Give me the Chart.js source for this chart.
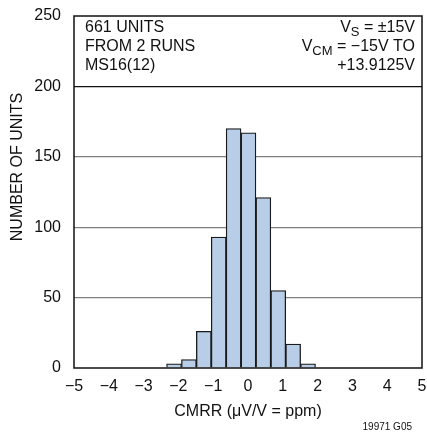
<!DOCTYPE html>
<html>
<head>
<meta charset="utf-8">
<script src="https://cdn.jsdelivr.net/npm/chart.js@4"></script>
<style>
  body { margin: 0; background: #fff; }
  #wrap { width: 427px; height: 436px; }
</style>
</head>
<body>
<div id="wrap"><canvas id="chart"></canvas></div>
<script>
// histogram bins (centres, µV/V) and counts
const binCenters = [-2.126, -1.698, -1.27, -0.842, -0.414, 0.014, 0.442, 0.87, 1.298, 1.726];
const counts = [3, 6, 26, 93, 170, 167, 121, 55, 17, 3];
const xTicks = [-5, -4, -3, -2, -1, 0, 1, 2, 3, 4, 5];
const yTicks = [0, 50, 100, 150, 200, 250];

const FONT = "'Liberation Sans', Arial, sans-serif";

// box, notes and titles
const notes = {
    id: "notes",
    afterDraw(chart) {
        const ctx = chart.ctx;
        const a = chart.chartArea;
        ctx.save();
        ctx.strokeStyle = "#111";
        ctx.lineWidth = 1.5;
        ctx.strokeRect(a.left, a.top, a.right - a.left, a.bottom - a.top);

        ctx.fillStyle = "#111";
        ctx.font = "16px " + FONT;
        ctx.textBaseline = "middle";
        ctx.textAlign = "left";
        ctx.fillText("661 UNITS", 85, 28);
        ctx.fillText("FROM 2 RUNS", 85, 47);
        ctx.fillText("MS16(12)", 85, 66);

        // right side with subscripts, drawn right to left
        const right = 415;
        ctx.textAlign = "right";
        let t = " = \u00b115V";
        ctx.fillText(t, right, 28);
        let w = ctx.measureText(t).width;
        ctx.font = "13px " + FONT;
        ctx.fillText("S", right - w, 32);
        let ws = ctx.measureText("S").width;
        ctx.font = "16px " + FONT;
        ctx.fillText("V", right - w - ws, 28);

        t = " = \u221215V TO";
        ctx.fillText(t, right, 47);
        w = ctx.measureText(t).width;
        ctx.font = "13px " + FONT;
        ctx.fillText("CM", right - w, 51);
        ws = ctx.measureText("CM").width;
        ctx.font = "16px " + FONT;
        ctx.fillText("V", right - w - ws, 47);
        ctx.fillText("+13.9125V", right, 66);

        // axis titles
        ctx.textAlign = "center";
        ctx.fillText("CMRR (\u03bcV/V = ppm)", 248, 412);
        ctx.save();
        ctx.translate(18, 167);
        ctx.rotate(-Math.PI / 2);
        ctx.fillText("NUMBER OF UNITS", 0, 0);
        ctx.restore();

        ctx.font = "10px " + FONT;
        ctx.textAlign = "right";
        ctx.fillText("19971 G05", 412, 427);
        ctx.restore();
    }
};

// keep the plot box where the reference has it
function fixPad(s) {
    s.paddingLeft = 0;
    s.paddingRight = 0;
    s.paddingTop = 0;
    s.paddingBottom = 0;
}

new Chart(document.getElementById("chart"), {
    type: "bar",
    data: {
        datasets: [{
            data: binCenters.map((x, i) => ({ x: x, y: counts[i] })),
            backgroundColor: "#b8cee8",
            borderColor: "#1a1a1a",
            borderWidth: 1.3,
            categoryPercentage: 1,
            barPercentage: 1,
        }],
    },
    options: {
        responsive: true,
        maintainAspectRatio: false,
        animation: false,
        layout: { autoPadding: false, padding: { left: 0, right: 5, top: 16, bottom: 0 } },
        plugins: { legend: { display: false }, tooltip: { enabled: false } },
        scales: {
            x: {
                type: "linear",
                min: -5,
                max: 5,
                offset: false,
                afterBuildTicks: (s) => { s.ticks = xTicks.map(v => ({ value: v })); },
                afterFit: (s) => { s.height = 68; fixPad(s); },
                grid: { display: false, drawTicks: false },
                border: { display: false },
                ticks: {
                    color: "#111",
                    padding: 9,
                    maxRotation: 0,
                    autoSkip: false,
                    font: { family: FONT, size: 16 },
                    callback: (v) => (v < 0 ? "\u2212" + Math.abs(v) : String(v)),
                },
            },
            y: {
                min: 0,
                max: 250,
                afterBuildTicks: (s) => { s.ticks = yTicks.map(v => ({ value: v })); },
                afterFit: (s) => { s.width = 74; fixPad(s); },
                grid: {
                    drawTicks: false,
                    lineWidth: 1.2,
                    color: (c) => {
                        const v = c.tick ? c.tick.value : 0;
                        if (v === 0 || v === 250) return "rgba(0,0,0,0)";
                        return v === 200 ? "#111" : "#808080";
                    },
                },
                border: { display: false },
                ticks: {
                    color: "#111",
                    padding: 13,
                    font: { family: FONT, size: 16 },
                },
            },
        },
    },
    plugins: [notes],
});
</script>
</body>
</html>
